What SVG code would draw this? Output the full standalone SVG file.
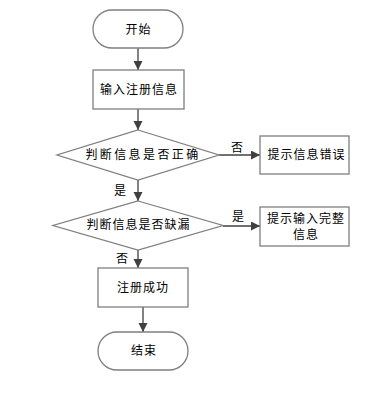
<svg xmlns="http://www.w3.org/2000/svg" width="391" height="395" viewBox="0 0 391 395">
<defs>
<marker id="ah" markerWidth="10" markerHeight="10" refX="9" refY="4.5" orient="auto" markerUnits="userSpaceOnUse">
<path d="M0,0 L9,4.5 L0,9 Z" fill="#404040"/>
</marker>
<style>
.shape{fill:#ffffff;stroke:#7f7f7f;stroke-width:1.3}
.t{font-family:"Liberation Sans","Noto Sans CJK SC",sans-serif;font-size:12px;fill:#000;text-anchor:middle;dominant-baseline:central;letter-spacing:1px}
.lbl{font-family:"Liberation Sans","Noto Sans CJK SC",sans-serif;font-size:12px;fill:#000;text-anchor:middle;dominant-baseline:central}
.c{fill:none;stroke:#404040;stroke-width:1.3;marker-end:url(#ah)}
</style>
</defs>
<rect width="391" height="395" fill="#ffffff"/>
<g id="connectors">
<line class="c" x1="138" y1="48" x2="138" y2="70"/>
<line class="c" x1="138" y1="109" x2="138" y2="130"/>
<line class="c" x1="138" y1="180" x2="138" y2="201"/>
<line class="c" x1="219" y1="155" x2="260" y2="155"/>
<line class="c" x1="223" y1="226" x2="260" y2="226"/>
<line class="c" x1="138" y1="250" x2="138" y2="268"/>
<line class="c" x1="143" y1="307" x2="143" y2="332"/>
<text class="lbl" x="237" y="148">否</text>
<text class="lbl" x="120" y="191">是</text>
<text class="lbl" x="238" y="217">是</text>
<text class="lbl" x="122" y="259">否</text>
</g>
<g id="start">
<rect class="shape" x="93" y="10" width="90" height="38" rx="19" ry="19"/>
<text class="t" x="138.5" y="30">开始</text>
</g>
<g id="input">
<rect class="shape" x="93" y="70" width="91" height="39"/>
<text class="t" x="139" y="90">输入注册信息</text>
</g>
<g id="check-correct">
<polygon class="shape" points="138,130 219,155 138,180 57,155"/>
<text class="t" x="143" y="155" style="letter-spacing:2.4px">判断信息是否正确</text>
</g>
<g id="error">
<rect class="shape" x="260" y="136" width="89" height="38"/>
<text class="t" x="306.5" y="155">提示信息错误</text>
</g>
<g id="check-missing">
<polygon class="shape" points="138,201 223,225.5 138,250 53,225.5"/>
<text class="t" x="138.5" y="225">判断信息是否缺漏</text>
</g>
<g id="complete">
<rect class="shape" x="260" y="207" width="89" height="39"/>
<text class="t" x="306" y="219">提示输入完整</text>
<text class="t" x="306" y="235">信息</text>
</g>
<g id="success">
<rect class="shape" x="98" y="268" width="90" height="39"/>
<text class="t" x="143" y="288">注册成功</text>
</g>
<g id="end">
<rect class="shape" x="98" y="332" width="90" height="38" rx="19" ry="19"/>
<text class="t" x="144" y="351">结束</text>
</g>
</svg>
